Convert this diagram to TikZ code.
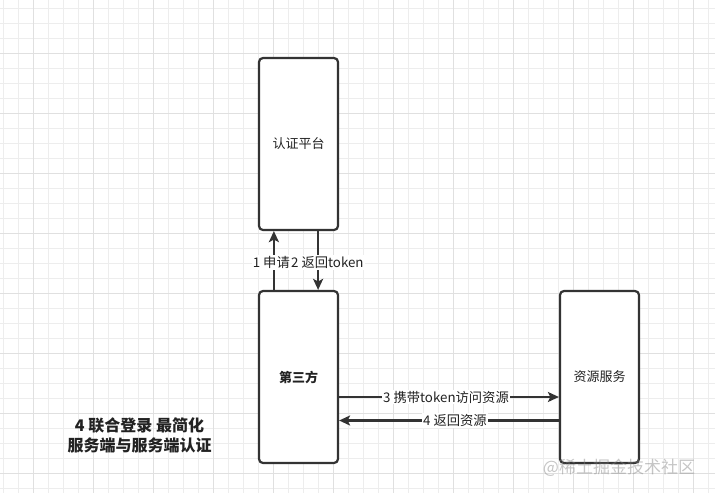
\documentclass[tikz,border=0pt]{standalone}
\usepackage{fontspec}
\setmainfont{Noto Sans CJK SC}
\usetikzlibrary{arrows.meta}
\definecolor{gridminor}{HTML}{EDEDED}
\definecolor{gridmajor}{HTML}{E0E0E0}
\definecolor{ink}{HTML}{333333}
\definecolor{txt}{HTML}{222222}
\begin{document}
\begin{tikzpicture}[x=1pt,y=-1pt,
  box/.style={draw=ink,line width=2.2pt,rounded corners=4pt,minimum width=79pt,minimum height=172pt,inner sep=0pt,font=\fontsize{13}{15}\selectfont,text=txt},
  arr/.style={draw=ink,line width=2.2pt,-{Stealth[length=11pt,width=10pt,inset=2.5pt]}},
  lbl/.style={fill=white,inner sep=1pt,font=\fontsize{13.3}{15}\selectfont,text=txt}]
\fill[white] (0,0) rectangle (715,493);
\useasboundingbox (0,0) rectangle (715,493);
% grid
\foreach \i in {0,...,47} {\draw[gridminor,line width=1pt] (3.3+15*\i,0) -- (3.3+15*\i,493);}
\foreach \i in {0,...,32} {\draw[gridminor,line width=1pt] (0,8.3+15*\i) -- (715,8.3+15*\i);}
\foreach \i in {0,...,11} {\draw[gridmajor,line width=1pt] (33.3+60*\i,0) -- (33.3+60*\i,493);}
\foreach \i in {0,...,7} {\draw[gridmajor,line width=1pt] (0,53.3+60*\i) -- (715,53.3+60*\i);}
% boxes
\node[box,fill=white] (auth) at (298.5,144) {认证平台};
\node[box,fill=white,font=\fontsize{13}{15}\selectfont\bfseries] (third) at (298.5,377) {第三方};
\node[box,fill=white] (res) at (599.5,377) {资源服务};
% arrows
\draw[arr] ([xshift=16pt]third.north west) -- ([xshift=16pt]auth.south west);
\draw[arr] ([xshift=-21pt]auth.south east) -- ([xshift=-21pt]third.north east);
\draw[arr] ([yshift=-20pt]third.east) -- ([yshift=-20pt]res.west);
\draw[arr] ([yshift=-43.5pt]res.west) -- ([yshift=-43.5pt]third.east);
% labels
\node[lbl,anchor=east] (l1) at (291,262.5) {1 申请};
\node[lbl,anchor=west] (l2) at (290,262.5) {2 返回token};
\node[lbl] (l3) at (446,397) {3 携带token访问资源};
\node[lbl] (l4) at (455,420.5) {4 返回资源};
% title
\node[align=center,font=\fontsize{16}{20}\selectfont\bfseries,text=txt] (title) at (139.5,435) {4 联合登录 最简化\\服务端与服务端认证};
% watermark
\node[font=\fontsize{17}{20}\selectfont,text=gray,opacity=0.45] (wm) at (619,468) {@稀土掘金技术社区};
\end{tikzpicture}
\end{document}
